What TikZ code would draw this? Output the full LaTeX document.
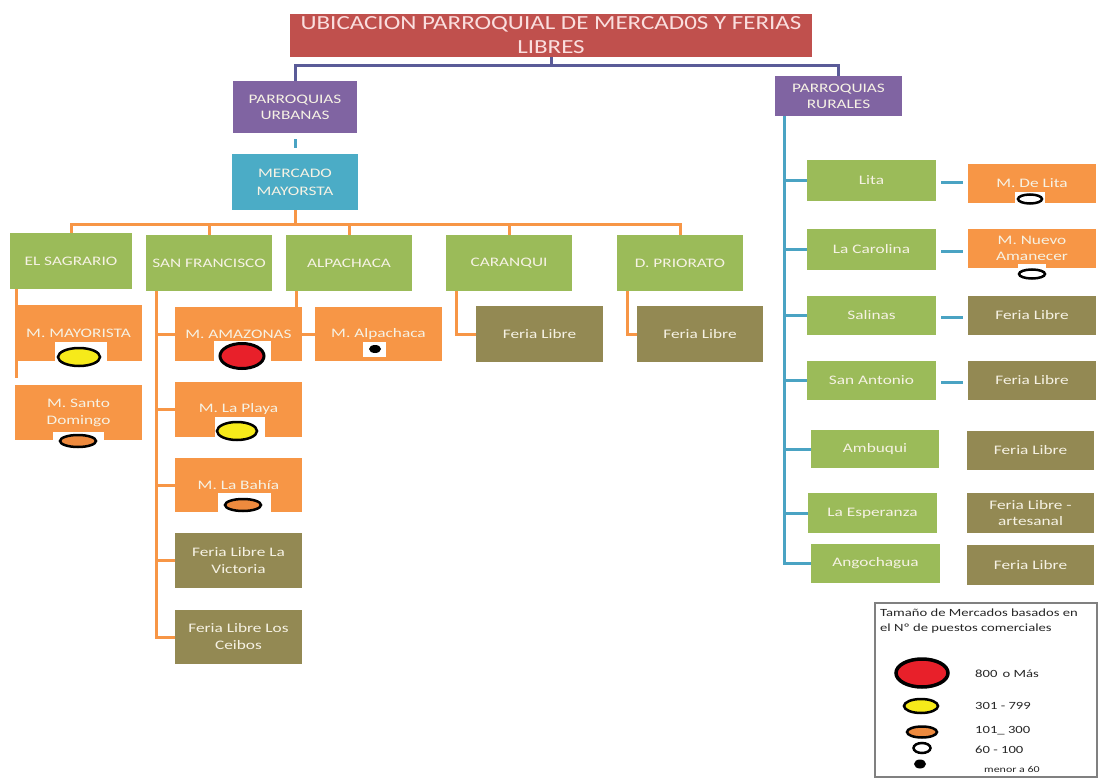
\documentclass[tikz,border=0pt]{standalone}
\usepackage{fontspec}
\setmainfont{Carlito}
\newfontfamily\cfont{Carlito}[FakeStretch=1.33]
\newfontfamily\tfont{Carlito}[FakeStretch=1.25]
\usetikzlibrary{calc}
\definecolor{tred}{HTML}{C0504D}
\definecolor{pur}{HTML}{8064A2}
\definecolor{blu}{HTML}{4BACC6}
\definecolor{grn}{HTML}{9BBB59}
\definecolor{org}{HTML}{F79646}
\definecolor{olv}{HTML}{938953}
\definecolor{tl}{HTML}{4AA3C3}
\definecolor{pl}{HTML}{5A5B98}
\definecolor{txt}{RGB}{246,242,228}
\definecolor{ttxt}{RGB}{250,222,222}
\definecolor{mred}{HTML}{E8202A}
\definecolor{myel}{HTML}{F6EA1A}
\definecolor{morg}{HTML}{EE8A3E}
\pgfdeclarelayer{bg}\pgfsetlayers{bg,main}
\tikzset{
  box/.style={rectangle, inner sep=0pt, align=center, text=txt, font=\cfont\fontsize{13}{17}\selectfont},
  gbox/.style={box, fill=grn},
  obox/.style={box, fill=org},
  olbox/.style={box, fill=olv},
  pbox/.style={box, fill=pur, font=\cfont\fontsize{13}{16}\selectfont},
  bbox/.style={box, fill=blu, font=\cfont\fontsize{13}{18}\selectfont},
  titlebox/.style={box, fill=tred, text=ttxt, font=\tfont\fontsize{20}{24}\selectfont},
  oline/.style={draw=org, line width=3pt},
  tline/.style={draw=tl, line width=3pt},
  pline/.style={draw=pl, line width=3pt},
  mk/.style={draw=black, line width=2.5pt},
  legtxt/.style={inner sep=0pt, text=black!85, align=left, font=\cfont\fontsize{11}{15}\selectfont},
}
\newcommand\mkbox[7]{\node[#2, minimum width={#5-#3}, minimum height={#6-#4}] (#1) at ({(#3+#5)/2},{(#4+#6)/2}) {#7};}
\begin{document}
\begin{tikzpicture}[x=1pt,y=-1pt]
\useasboundingbox (0,0) rectangle (1100,778);
\begin{pgfonlayer}{bg}
  \fill[white] (0,0) rectangle (1100,778);
\end{pgfonlayer}
% boxes
\mkbox{title}{titlebox}{290}{14}{812}{57}{UBICACION PARROQUIAL DE MERCAD0S Y FERIAS\\LIBRES}
\mkbox{urb}{pbox}{233}{81}{357}{133}{PARROQUIAS\\URBANAS}
\mkbox{rur}{pbox}{775}{76}{902}{116}{PARROQUIAS\\RURALES}
\mkbox{merc}{bbox}{232}{154}{358}{210}{MERCADO\\MAYORSTA}
\mkbox{sag}{gbox}{10}{233}{132}{289}{EL SAGRARIO}
\mkbox{sf}{gbox}{146}{235}{272}{291}{SAN FRANCISCO}
\mkbox{alp}{gbox}{286}{235}{412}{291}{ALPACHACA}
\mkbox{car}{gbox}{446}{235}{572}{291}{CARANQUI}
\mkbox{pri}{gbox}{617}{235}{743}{291}{D. PRIORATO}
\mkbox{mmay}{obox}{15}{305}{142}{361}{M. MAYORISTA}
\mkbox{msd}{obox}{15}{385}{142}{440}{M. Santo\\Domingo}
\mkbox{mama}{obox}{175}{307}{302}{361}{M. AMAZONAS}
\mkbox{mpla}{obox}{175}{382}{302}{437}{M. La Playa}
\mkbox{mbah}{obox}{175}{458}{302}{512}{M. La Bahía}
\mkbox{flvic}{olbox}{175}{533}{302}{588}{Feria Libre La\\Victoria}
\mkbox{flcei}{olbox}{175}{610}{302}{664}{Feria Libre Los\\Ceibos}
\mkbox{malp}{obox}{315}{307}{442}{361}{M. Alpachaca}
\mkbox{flcar}{olbox}{476}{306}{603}{362}{Feria Libre}
\mkbox{flpri}{olbox}{637}{306}{763}{362}{Feria Libre}
\mkbox{lita}{gbox}{807}{160}{936}{201}{Lita}
\mkbox{mlita}{obox}{968}{164}{1096}{203}{M. De Lita}
\mkbox{caro}{gbox}{807}{229}{936}{270}{La Carolina}
\mkbox{mnue}{obox, font=\cfont\fontsize{13}{16}\selectfont}{968}{229}{1096}{268}{M. Nuevo\\Amanecer}
\mkbox{sal}{gbox}{807}{296}{936}{335}{Salinas}
\mkbox{flsal}{olbox}{968}{296}{1096}{335}{Feria Libre}
\mkbox{santo}{gbox}{807}{361}{936}{400}{San Antonio}
\mkbox{flsan}{olbox}{968}{361}{1096}{400}{Feria Libre}
\mkbox{amb}{gbox}{811}{430}{939}{468}{Ambuqui}
\mkbox{flamb}{olbox}{967}{431}{1094}{470}{Feria Libre}
\mkbox{esp}{gbox}{808}{493}{937}{533}{La Esperanza}
\mkbox{flesp}{olbox, font=\cfont\fontsize{13}{16}\selectfont}{967}{493}{1094}{533}{Feria Libre -\\artesanal}
\mkbox{ango}{gbox}{811}{544}{940}{583}{Angochagua}
\mkbox{flang}{olbox}{967}{545}{1094}{585}{Feria Libre}
% connectors
\begin{pgfonlayer}{bg}
  \coordinate (tb) at ($(title.south)+(0,8)$);
  \draw[pline] (title.south) -- (tb);
  \draw[pline] (urb.north) |- (tb) -| (rur.north);
  \draw[tline] ($(urb.south)+(0,6)$) -- ($(merc.north)+(0,-6)$);
  \coordinate (ob) at ($(merc.south)+(0,14)$);
  \draw[oline] (merc.south) -- (ob);
  \draw[oline] (sag.north) |- (ob) -| (pri.north);
  \foreach \n in {sf,alp,car} \draw[oline] (\n.north) -- (\n.north |- ob);
  \draw[oline] ($(sag.south west)+(6.5,0)$) -- ($(msd.north west)+(1.5,-7)$);
  \coordinate (sfx) at ($(sf.south west)+(11,0)$);
  \draw[oline] (sfx) |- (flcei.west);
  \foreach \n in {mama,mpla,mbah,flvic} \draw[oline] (\n.west) -- (\n.west -| sfx);
  \draw[oline] ($(alp.south west)+(11,0)$) |- (malp.west);
  \draw[oline] ($(car.south west)+(11,0)$) |- (flcar.west);
  \draw[oline] ($(pri.south west)+(11,0)$) |- (flpri.west);
  \coordinate (rx) at ($(rur.south west)+(10,0)$);
  \draw[tline] (rx) |- (ango.west);
  \foreach \n in {lita,caro,sal,santo,amb,esp} \draw[tline] (\n.west) -- (\n.west -| rx);
  \foreach \a/\b in {lita/mlita,caro/mnue,sal/flsal,santo/flsan}
    \draw[tline, shorten <=5pt, shorten >=5pt] ($(\a.east)+(0,2)$) -- ($(\a.east -| \b.west)+(0,2)$);
\end{pgfonlayer}
% size marks
\fill[white] (55,342) rectangle (107,361);
\draw[mk, fill=myel] (79,357) ellipse [x radius=21pt, y radius=9pt];
\fill[white] (53,432) rectangle (104,440);
\draw[mk, fill=morg] (78,441) ellipse [x radius=18pt, y radius=6pt];
\fill[white] (214,341) rectangle (271,361);
\draw[mk, line width=3pt, fill=mred] (242,356) ellipse [x radius=22pt, y radius=12.5pt];
\fill[white] (215,417) rectangle (265,437);
\draw[mk, fill=myel] (237,431) ellipse [x radius=20pt, y radius=9pt];
\fill[white] (218,493) rectangle (271,512);
\draw[mk, fill=morg] (243,505) ellipse [x radius=18pt, y radius=6pt];
\fill[white] (363,342) rectangle (386,357);
\fill[black] (375,349) ellipse [x radius=6pt, y radius=4pt];
\fill[white] (1015,192) rectangle (1045,203);
\draw[mk, fill=white] (1030,199) ellipse [x radius=12pt, y radius=4.5pt];
\fill[white] (1018,264) rectangle (1046,268);
\draw[mk, fill=white] (1032,274) ellipse [x radius=13pt, y radius=4.5pt];
% legend
\node[draw=black!50, line width=1.2pt, fill=white, inner sep=0pt, minimum width=222, minimum height=174] (legend) at (986,690) {};
\node[legtxt, anchor=north west] (legt) at (880,609) {Tamaño de Mercados basados en\\el Nº de puestos comerciales};
\draw[mk, line width=3.5pt, fill=mred] (922,673) ellipse [x radius=26pt, y radius=14pt];
\draw[mk, fill=myel] (921,706) ellipse [x radius=17pt, y radius=7pt];
\draw[mk, fill=morg] (922,732) ellipse [x radius=15pt, y radius=5.5pt];
\draw[mk, fill=white] (922,748) ellipse [x radius=8.5pt, y radius=5pt];
\fill[black] (920,764) ellipse [x radius=6pt, y radius=4.5pt];
\node[legtxt, anchor=west] (l1) at (975,674) {800\, o Más};
\node[legtxt, anchor=west] (l2) at (975,706) {301 - 799};
\node[legtxt, anchor=west] (l3) at (975,731) {101\_ 300};
\node[legtxt, anchor=west] (l4) at (975,750) {60 - 100};
\node[legtxt, anchor=west, font=\cfont\fontsize{9}{11}\selectfont] (l5) at (984,769) {menor a 60};
\end{tikzpicture}
\end{document}
